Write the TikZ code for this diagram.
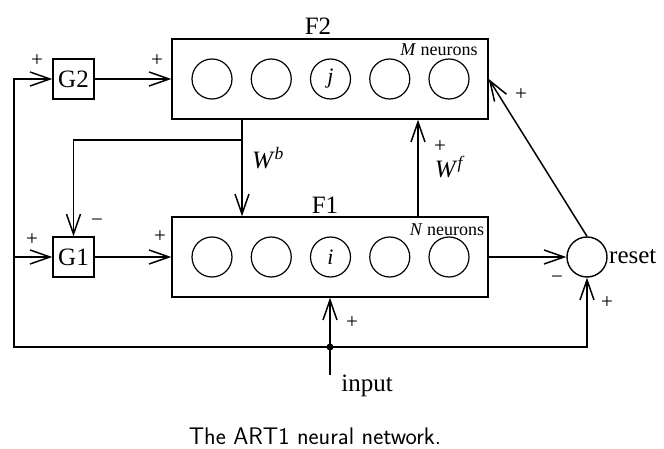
\documentclass[tikz,border=0pt]{standalone}
\usepackage{fontspec}
\setmainfont{Liberation Serif}
\usepackage{tikz}
\usetikzlibrary{arrows.meta, positioning, calc}

\begin{document}
\begin{tikzpicture}[x=1pt, y=-1pt, >={Straight Barb[length=20pt,width=14pt]},
    font=\fontsize{25}{29}\selectfont,
    layer/.style={rectangle, draw, line width=1.4pt, minimum width=316pt, minimum height=80pt, inner sep=0pt},
    gain/.style={rectangle, draw, line width=1.4pt, minimum width=41pt, minimum height=40pt, inner sep=0pt},
    neuron/.style={circle, draw, line width=1.2pt, minimum size=40pt, inner sep=0pt},
    sign/.style={font=\fontsize{21}{25}\selectfont, inner sep=0pt},
    small/.style={font=\fontsize{18}{21}\selectfont, inner sep=0pt},
    link/.style={line width=1.5pt}]

    \useasboundingbox (0,0) rectangle (664,449);

    % Layers F2 and F1
    \node[layer] (f2) at (330,79) {};
    \node[layer] (f1) at (330,257) {};
    \node (f2label) at (318,26) {F2};
    \node (f1label) at (325,205) {F1};
    \node[small] (f2count) at (439,50) {\textit{M} neurons};
    \node[small] (f1count) at (447,230) {\textit{N} neurons};

    \foreach \i in {1,...,5} {
        \node[neuron] (a\i) at ({212+59.25*(\i-1)},79) {};
        \node[neuron] (b\i) at ({212+59.25*(\i-1)},257) {};
    }
    \node[font=\fontsize{22}{26}\selectfont] at (a3) {\textit{j}};
    \node[font=\fontsize{22}{26}\selectfont] at (b3) {\textit{i}};

    % Gain control and reset
    \node[gain] (g2) at (73.5,79) {G2};
    \node[gain] (g1) at (73.5,257) {G1};
    \node[neuron, line width=1.4pt] (reset) at (587,257) {};
    \node[right=-2pt of reset] (resetlabel) {reset};

    \coordinate (corner) at (14,347);
    \coordinate (tap) at (330,347);
    \coordinate (src) at (330,375);
    \coordinate (wb) at (242,119);
    \coordinate (split) at (242,140);
    \coordinate (wf) at (418,217);

    % Connections
    \draw[link,->] (tap) -- (corner) |- (g2.west);
    \draw[link,->] (corner |- g1.west) -- (g1.west);
    \draw[link,->] (tap) -| (reset.south);
    \draw[link,->] (src) -- (f1.south);
    \fill (tap) circle (3.5);
    \draw[link,->] (g2.east) -- (f2.west);
    \draw[link,->] (g1.east) -- (f1.west);
    \draw[link,->] (wb) -- (wb |- f1.north);
    \draw[link,->] (split) -| (g1.north);
    \draw[link,->] (wf) -- (wf |- f2.south);
    \draw[link,->] (f1.east) -- (reset.west);
    \draw[link,->] (reset.north) -- (f2.east);

    % Signs and weights
    \node[sign] at (37,61) {+};
    \node[sign] at (157,61) {+};
    \node[sign] at (32,240) {+};
    \node[sign] at (97,223) {−};
    \node[sign] at (160,237) {+};
    \node[sign] at (440,147) {+};
    \node[sign] at (521,95) {+};
    \node[sign] at (557,280) {−};
    \node[sign] at (607,303) {+};
    \node[sign] at (352,323) {+};
    \node (wblabel) at (268,158) {\textit{W}\textsuperscript{\textit{b}}};
    \node (wflabel) at (450,167) {\textit{W}\textsuperscript{\textit{f}}};
    \node (input) at (367,386) {input};

    \node[font=\sffamily\fontsize{24}{28}\selectfont] (caption) at (315,436) {The ART1 neural network.};
\end{tikzpicture}
\end{document}
